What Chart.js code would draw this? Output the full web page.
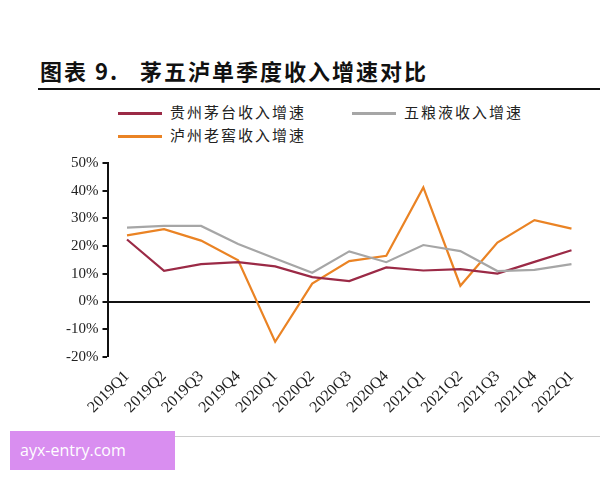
<!DOCTYPE html><html><head><meta charset="utf-8">
<script src="https://cdn.jsdelivr.net/npm/chart.js@4"></script>
<style>
body{margin:0;width:600px;height:480px;background:#fff;position:relative;overflow:hidden;font-family:"Noto Sans CJK SC",sans-serif}
#title{position:absolute;left:40px;top:54px;font-size:22px;font-weight:bold;color:#111;letter-spacing:2px}
#rule{position:absolute;left:38px;top:88px;width:562px;height:2px;background:#111}
.lg{position:absolute;font-size:15px;color:#222;letter-spacing:2px}
.lg i{display:inline-block;width:44px;height:3px;vertical-align:middle;margin-right:8px}
#bot{position:absolute;left:38px;top:436px;width:562px;height:1px;background:#ccc}
#wm{position:absolute;left:10px;top:431px;width:165px;height:39px;background:#d98ef0;color:#fff;font:16px "Open Sans",sans-serif;line-height:39px;padding-left:10px;box-sizing:border-box}
#wrap{position:absolute;left:62px;top:150px;width:528px;height:269px}
</style></head><body>
<div id="title">图表 9.&nbsp;&nbsp;&nbsp;茅五泸单季度收入增速对比</div>
<div id="rule"></div>
<div class="lg" style="left:118px;top:101px"><i style="background:#9b2a46"></i>贵州茅台收入增速</div>
<div class="lg" style="left:352px;top:101px"><i style="background:#a6a6a6"></i>五粮液收入增速</div>
<div class="lg" style="left:118px;top:124px"><i style="background:#ea8324"></i>泸州老窖收入增速</div>
<div id="wrap"><canvas id="c"></canvas></div>
<div id="bot"></div>
<div id="wm">ayx-entry.com</div>
<script>
const categories=["2019Q1","2019Q2","2019Q3","2019Q4","2020Q1","2020Q2","2020Q3","2020Q4","2021Q1","2021Q2","2021Q3","2021Q4","2022Q1"];
const maotai=[22.4,11.1,13.5,14.2,12.7,8.8,7.4,12.3,11.2,11.7,10.1,14.3,18.5];
const wuliangye=[26.7,27.3,27.3,20.8,15.5,10.4,18.1,14.2,20.4,18.2,11.0,11.4,13.5];
const luzhou=[23.9,26.1,22.0,14.9,-14.5,6.5,14.6,16.5,41.2,5.7,21.3,29.4,26.3];
const yTicks=[-20,-10,0,10,20,30,40,50];
const ds=(d,c)=>({data:d,borderColor:c,borderWidth:2.2,pointRadius:0,tension:0,fill:false});
new Chart(document.getElementById('c'),{type:'line',
data:{labels:categories,datasets:[ds(wuliangye,'#a6a6a6'),ds(maotai,'#9b2a46'),ds(luzhou,'#ea8324')]},
options:{responsive:true,maintainAspectRatio:false,animation:false,
layout:{padding:{top:0,right:0,bottom:0}},
plugins:{legend:{display:false},tooltip:{enabled:false}},
scales:{
x:{offset:true,grid:{display:false},border:{display:false},
ticks:{maxRotation:45,minRotation:45,color:'#222',font:{family:'Liberation Serif',size:16},padding:2}},
y:{min:-20,max:50,afterBuildTicks:a=>{a.ticks=yTicks.map(v=>({value:v}))},
border:{color:'#111',width:2},
grid:{drawOnChartArea:true,color:c=>c.tick&&c.tick.value===0?'#111':'rgba(0,0,0,0)',lineWidth:c=>c.tick&&c.tick.value===0?2:0,tickColor:'#111',tickLength:6,tickWidth:2},
ticks:{color:'#222',font:{family:'Liberation Serif',size:15},callback:v=>v+'%',padding:4}}
}}});
</script></body></html>
